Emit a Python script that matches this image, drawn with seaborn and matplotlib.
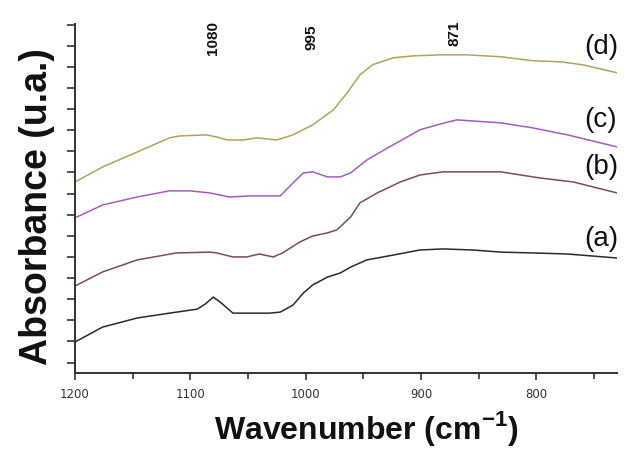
import numpy as np
import pandas as pd
import matplotlib
matplotlib.use("Agg")
import matplotlib.pyplot as plt
import seaborn as sns

# FTIR spectra (wavenumber in cm-1, absorbance in arbitrary offset units)
wn_a = [1200, 1176, 1146, 1118, 1094, 1087, 1080, 1074, 1068, 1063, 1048, 1031,
        1022, 1011, 1002, 994, 981, 970, 961, 947, 924, 901, 881, 855, 831,
        803, 773, 730]
abs_a = [0.97, 1.68, 2.11, 2.34, 2.53, 2.77, 3.10, 2.86, 2.58, 2.34, 2.34, 2.34,
         2.39, 2.72, 3.29, 3.67, 4.05, 4.24, 4.52, 4.86, 5.09, 5.33, 5.38, 5.33,
         5.23, 5.19, 5.14, 4.95]

wn_b = [1200, 1176, 1146, 1112, 1083, 1077, 1063, 1051, 1040, 1028, 1020, 1005,
        994, 981, 973, 961, 953, 938, 918, 901, 881, 831, 797, 768, 730]
abs_b = [3.62, 4.29, 4.86, 5.19, 5.23, 5.19, 5.00, 5.00, 5.14, 5.00, 5.19, 5.71,
         5.99, 6.14, 6.28, 6.89, 7.56, 8.03, 8.55, 8.88, 9.03, 9.03, 8.74, 8.55,
         8.03]

wn_c = [1200, 1176, 1146, 1118, 1100, 1083, 1066, 1048, 1022, 1011, 1002, 994,
        981, 970, 961, 947, 929, 912, 901, 883, 869, 831, 803, 773, 730]
abs_c = [6.85, 7.46, 7.84, 8.13, 8.13, 8.03, 7.84, 7.89, 7.89, 8.50, 8.98, 9.03,
         8.79, 8.79, 8.98, 9.59, 10.16, 10.68, 11.02, 11.30, 11.49, 11.35, 11.11,
         10.78, 10.21]

wn_d = [1200, 1176, 1146, 1118, 1109, 1086, 1077, 1068, 1054, 1042, 1025, 1011,
        994, 976, 964, 953, 942, 924, 907, 883, 860, 831, 803, 779, 760, 730]
abs_d = [8.55, 9.26, 9.97, 10.64, 10.73, 10.78, 10.68, 10.54, 10.54, 10.64,
         10.54, 10.78, 11.25, 11.96, 12.77, 13.62, 14.10, 14.43, 14.52, 14.57,
         14.57, 14.48, 14.29, 14.24, 14.10, 13.72]

samples = ["(a)", "(b)", "(c)", "(d)"]
sample_label_y = [5.85, 9.26, 11.49, 14.95]
band_positions = [1080, 995, 871]
band_label_y = [15.38, 15.40, 15.57]
x_ticks = [1200, 1100, 1000, 900, 800]
x_minor_ticks = [1150, 1050, 950, 850, 750]

frames = []
for name, wn, ab in zip(samples, [wn_a, wn_b, wn_c, wn_d],
                        [abs_a, abs_b, abs_c, abs_d]):
    frames.append(pd.DataFrame({"wavenumber": wn, "absorbance": ab,
                                "sample": name}))
df = pd.concat(frames, ignore_index=True)

sns.set_style("ticks")
plt.rcParams["font.family"] = ["Liberation Sans", "DejaVu Sans"]
plt.rcParams["mathtext.fontset"] = "custom"
plt.rcParams["mathtext.rm"] = "Liberation Sans"
plt.rcParams["mathtext.bf"] = "Liberation Sans:bold"

fig = plt.figure(figsize=(6.24, 4.49), dpi=100)
ax = fig.add_axes([0.120, 0.169, 0.869, 0.778])

palette = {"(a)": "#2b2b2b", "(b)": "#7d4c56", "(c)": "#a45cc4",
           "(d)": "#b5a25a"}
sns.lineplot(data=df, x="wavenumber", y="absorbance", hue="sample",
             palette=palette, linewidth=1.1, legend=False, ax=ax,
             sort=False, estimator=None)

ax.set_xlim(1200, 730)
ax.set_ylim(-0.5, 16.04)
ax.set_xticks(x_ticks)
ax.set_xticks(x_minor_ticks, minor=True)
ax.set_yticks(np.arange(0, 17))
ax.set_yticklabels([])
ax.tick_params(axis="x", which="both", direction="out", length=5, width=1.2,
               colors="#333333", labelsize=8.5, pad=6)
ax.tick_params(axis="x", which="minor", length=4)
ax.tick_params(axis="y", direction="out", length=6, width=1.2,
               colors="#333333")
for lbl in ax.get_xticklabels():
    lbl.set_family("DejaVu Sans")

sns.despine(ax=ax, top=True, right=True)
for side in ["left", "bottom"]:
    ax.spines[side].set_linewidth(1.4)
    ax.spines[side].set_color("#333333")

ax.set_xlabel(r"Wavenumber (cm$^{\mathbf{-1}}$)", fontsize=23,
              fontweight="bold", color="#111111")
ax.xaxis.set_label_coords(0.537, -0.103)
ax.set_ylabel("Absorbance (u.a.)", fontsize=27, fontweight="bold",
              color="#111111")
ax.yaxis.set_label_coords(-0.036, 0.478)

for pos, yy in zip(band_positions, band_label_y):
    ax.text(pos, yy, str(pos), rotation=90, ha="center", va="center",
            fontsize=11, fontweight="bold", color="#111111")

for name, yy in zip(samples, sample_label_y):
    ax.text(744, yy, name, ha="center", va="center", fontsize=20,
            color="#111111")

fig.savefig("out.png", dpi=100)
